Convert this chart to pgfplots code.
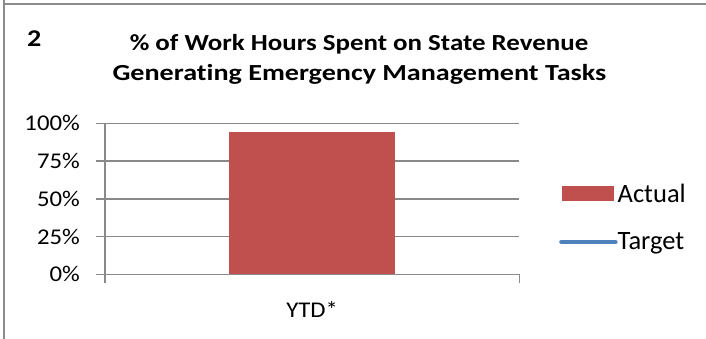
\documentclass[border=0pt]{standalone}
\usepackage{fontspec}
\setmainfont{Carlito}[RawFeature=-liga]
\newfontfamily\tickfont[FakeStretch=1.1]{Carlito}
\newfontfamily\titlefont[FakeStretch=1.17,RawFeature=-liga]{Carlito Bold}
\usepackage{pgfplots}
\pgfplotsset{compat=1.18}
\definecolor{barred}{HTML}{C0504D}
\definecolor{lineblue}{HTML}{4F81BD}
\definecolor{gridgray}{HTML}{898989}
\definecolor{bordergray}{HTML}{8C8C8C}
\begin{document}
\begin{tikzpicture}
\useasboundingbox (0,0) rectangle (706bp,339bp);
\draw[bordergray, line width=2bp] (3.5bp,0bp) -- (3.5bp,339bp);
\draw[bordergray, line width=2bp] (3.5bp,335bp) -- (706bp,335bp);
\node[anchor=base west, inner sep=0pt] at (27bp,292bp) {\titlefont\fontsize{24bp}{25bp}\selectfont 2};
\node[anchor=base, inner sep=0pt] at (359bp,288bp) {\titlefont\fontsize{23bp}{25bp}\selectfont \% of Work Hours Spent on State Revenue};
\node[anchor=base, inner sep=0pt] at (359.5bp,258bp) {\scalebox{1.045}[1]{\titlefont\fontsize{23bp}{25bp}\selectfont Generating Emergency Management Tasks}};
\begin{axis}[
  scale only axis,
  width=414.3bp, height=151bp,
  at={(105bp,64.7bp)}, anchor=south west,
  xmin=-0.5, xmax=0.5, ymin=0, ymax=100,
  axis x line=bottom, axis y line=left,
  axis line style={-, gridgray, line width=1.5bp},
  xtick={-0.5,0.5}, xticklabels={},
  extra x ticks={0}, extra x tick labels={YTD*},
  extra x tick style={major tick length=0pt, grid=none,
    tick label style={anchor=base, inner sep=0pt, yshift=-42.7bp, font=\tickfont\fontsize{22.5bp}{25bp}\selectfont}},
  ytick={0,25,50,75,100},
  yticklabels={0\%,25\%,50\%,75\%,100\%},
  yticklabel style={anchor=east, inner sep=0pt, xshift=-16.5bp, font=\tickfont\fontsize{22.5bp}{25bp}\selectfont},
  xticklabel style={font=\tickfont\fontsize{22.5bp}{25bp}\selectfont},
  tick align=outside,
  major tick length=8.5bp,
  tick style={gridgray, line width=1.5bp},
  ymajorgrids,
  major grid style={gridgray, line width=1.5bp},
  legend style={at={(rel axis cs:1.0958,0.376)}, anchor=west, draw=none, fill=none,
    inner sep=0pt, row sep=29bp,
    font=\fontsize{26.5bp}{30bp}\selectfont,
    nodes={inner sep=0pt, anchor=west},
    /tikz/every even column/.append style={column sep=7.5bp}},
  legend cell align=left,
]
\addplot[ybar, bar width=165.7bp, bar shift=0pt, fill=barred, draw=none,
  legend image code/.code={\fill[barred] (0bp,-7.4bp) rectangle (52bp,7.4bp);}]
  coordinates {(0,94)};
\addlegendentry{Actual}
\addlegendimage{legend image code/.code={\draw[lineblue, line width=4.5bp, line cap=round] (-1bp,0bp) -- (53bp,0bp);}}
\addlegendentry{Target}
\end{axis}
\end{tikzpicture}
\end{document}
